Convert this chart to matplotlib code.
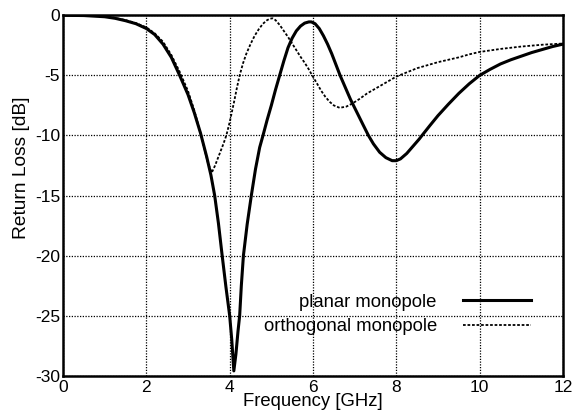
import matplotlib
matplotlib.use("Agg")
import matplotlib.pyplot as plt

# Return loss of the planar monopole (solid)
planar_freq = [0.0, 0.5, 1.0, 1.25, 1.5, 1.75, 2.0, 2.2, 2.4, 2.6, 2.8, 3.0,
               3.15, 3.3, 3.45, 3.55, 3.64, 3.73, 3.82, 3.91, 4.0, 4.05, 4.1,
               4.15, 4.2, 4.24, 4.28, 4.33, 4.42, 4.52, 4.62, 4.72, 4.8, 4.9,
               5.0, 5.1, 5.2, 5.3, 5.4, 5.5, 5.6, 5.7, 5.8, 5.9, 5.96, 6.05,
               6.15, 6.25, 6.35, 6.45, 6.55, 6.65, 6.8, 6.9, 7.0, 7.1, 7.2,
               7.33, 7.45, 7.6, 7.75, 7.9, 8.0, 8.1, 8.25, 8.4, 8.55, 8.64,
               8.8, 9.0, 9.25, 9.5, 9.75, 10.0, 10.25, 10.5, 10.75, 11.0,
               11.25, 11.5, 11.75, 12.0]
planar_rl = [0.0, -0.02, -0.12, -0.25, -0.45, -0.7, -1.1, -1.6, -2.4, -3.5,
             -5.0, -6.6, -8.1, -9.8, -11.8, -13.3, -15.0, -17.3, -20.0, -22.6,
             -25.0, -27.0, -29.6, -28.2, -26.3, -25.0, -22.5, -20.0, -17.4,
             -15.0, -12.8, -11.0, -10.0, -8.7, -7.5, -6.2, -5.0, -3.8, -2.7,
             -1.9, -1.3, -0.9, -0.65, -0.55, -0.55, -0.7, -1.1, -1.7, -2.4,
             -3.2, -4.1, -5.0, -6.2, -7.0, -7.7, -8.4, -9.1, -10.0, -10.7,
             -11.4, -11.85, -12.1, -12.1, -11.95, -11.5, -10.9, -10.3, -9.9,
             -9.2, -8.35, -7.4, -6.5, -5.7, -5.0, -4.5, -4.05, -3.7, -3.4,
             -3.1, -2.85, -2.6, -2.4]

# Return loss of the orthogonal monopole (dotted)
ortho_freq = [0.0, 0.5, 1.0, 1.25, 1.5, 1.75, 2.0, 2.2, 2.4, 2.6, 2.8, 3.0,
              3.15, 3.3, 3.4, 3.48, 3.57, 3.65, 3.75, 3.85, 3.92, 4.0, 4.1,
              4.17, 4.24, 4.32, 4.4, 4.5, 4.6, 4.7, 4.8, 4.9, 4.97, 5.03, 5.1,
              5.2, 5.3, 5.4, 5.5, 5.6, 5.7, 5.8, 5.9, 5.98, 6.1, 6.2, 6.3,
              6.4, 6.5, 6.64, 6.8, 6.94, 7.1, 7.3, 7.5, 7.75, 8.0, 8.25, 8.5,
              8.75, 9.0, 9.25, 9.5, 9.75, 10.0, 10.5, 11.0, 11.5, 12.0]
ortho_rl = [0.0, -0.02, -0.1, -0.22, -0.4, -0.65, -1.0, -1.5, -2.2, -3.3,
            -4.7, -6.3, -7.9, -9.8, -11.2, -12.3, -13.1, -12.5, -11.6, -10.7,
            -10.0, -8.9, -7.3, -6.1, -5.0, -4.0, -3.2, -2.4, -1.7, -1.15,
            -0.7, -0.4, -0.28, -0.25, -0.4, -0.8, -1.3, -1.8, -2.35, -2.9,
            -3.45, -3.95, -4.5, -5.0, -5.7, -6.3, -6.8, -7.2, -7.5, -7.7,
            -7.6, -7.35, -7.0, -6.5, -6.1, -5.6, -5.1, -4.75, -4.4, -4.15,
            -3.9, -3.7, -3.5, -3.25, -3.05, -2.8, -2.6, -2.45, -2.35]

x_ticks = [0, 2, 4, 6, 8, 10, 12]
y_ticks = [0, -5, -10, -15, -20, -25, -30]

plt.rcParams["font.family"] = ["Liberation Sans", "DejaVu Sans"]
plt.rcParams["axes.unicode_minus"] = False

fig = plt.figure(figsize=(5.77, 4.17), dpi=100)
ax = fig.add_axes([0.1092, 0.099, 0.8665, 0.8643])

ax.plot(planar_freq, planar_rl, color="black", lw=2.2, label="planar monopole")
ax.plot(ortho_freq, ortho_rl, color="black", lw=1.3, dashes=(1.5, 1.0),
        label="orthogonal monopole")

ax.set_xlim(0, 12)
ax.set_ylim(-30, 0)
ax.set_xticks(x_ticks)
ax.set_yticks(y_ticks)
ax.tick_params(length=0, labelsize=12.5)
ax.tick_params(axis="x", pad=3)
ax.tick_params(axis="y", pad=2)
ax.grid(True, color="black", linestyle=(0, (1, 1.2)), linewidth=0.9)
for s in ax.spines.values():
    s.set_linewidth(1.8)

ax.set_xlabel("Frequency [GHz]", fontsize=13.3, labelpad=-1)
ax.set_ylabel("Return Loss [dB]", fontsize=13.8)
ax.yaxis.set_label_coords(-0.066, 0.576)

leg = ax.legend(loc="center right", bbox_to_anchor=(0.936, 0.170),
                frameon=False, markerfirst=False, borderpad=0,
                borderaxespad=0, handlelength=3.7, handletextpad=1.4,
                labelspacing=0.4, fontsize=13.3)
for t in leg.get_texts():
    t.set_ha("right")

fig.savefig("out.png", dpi=100)
